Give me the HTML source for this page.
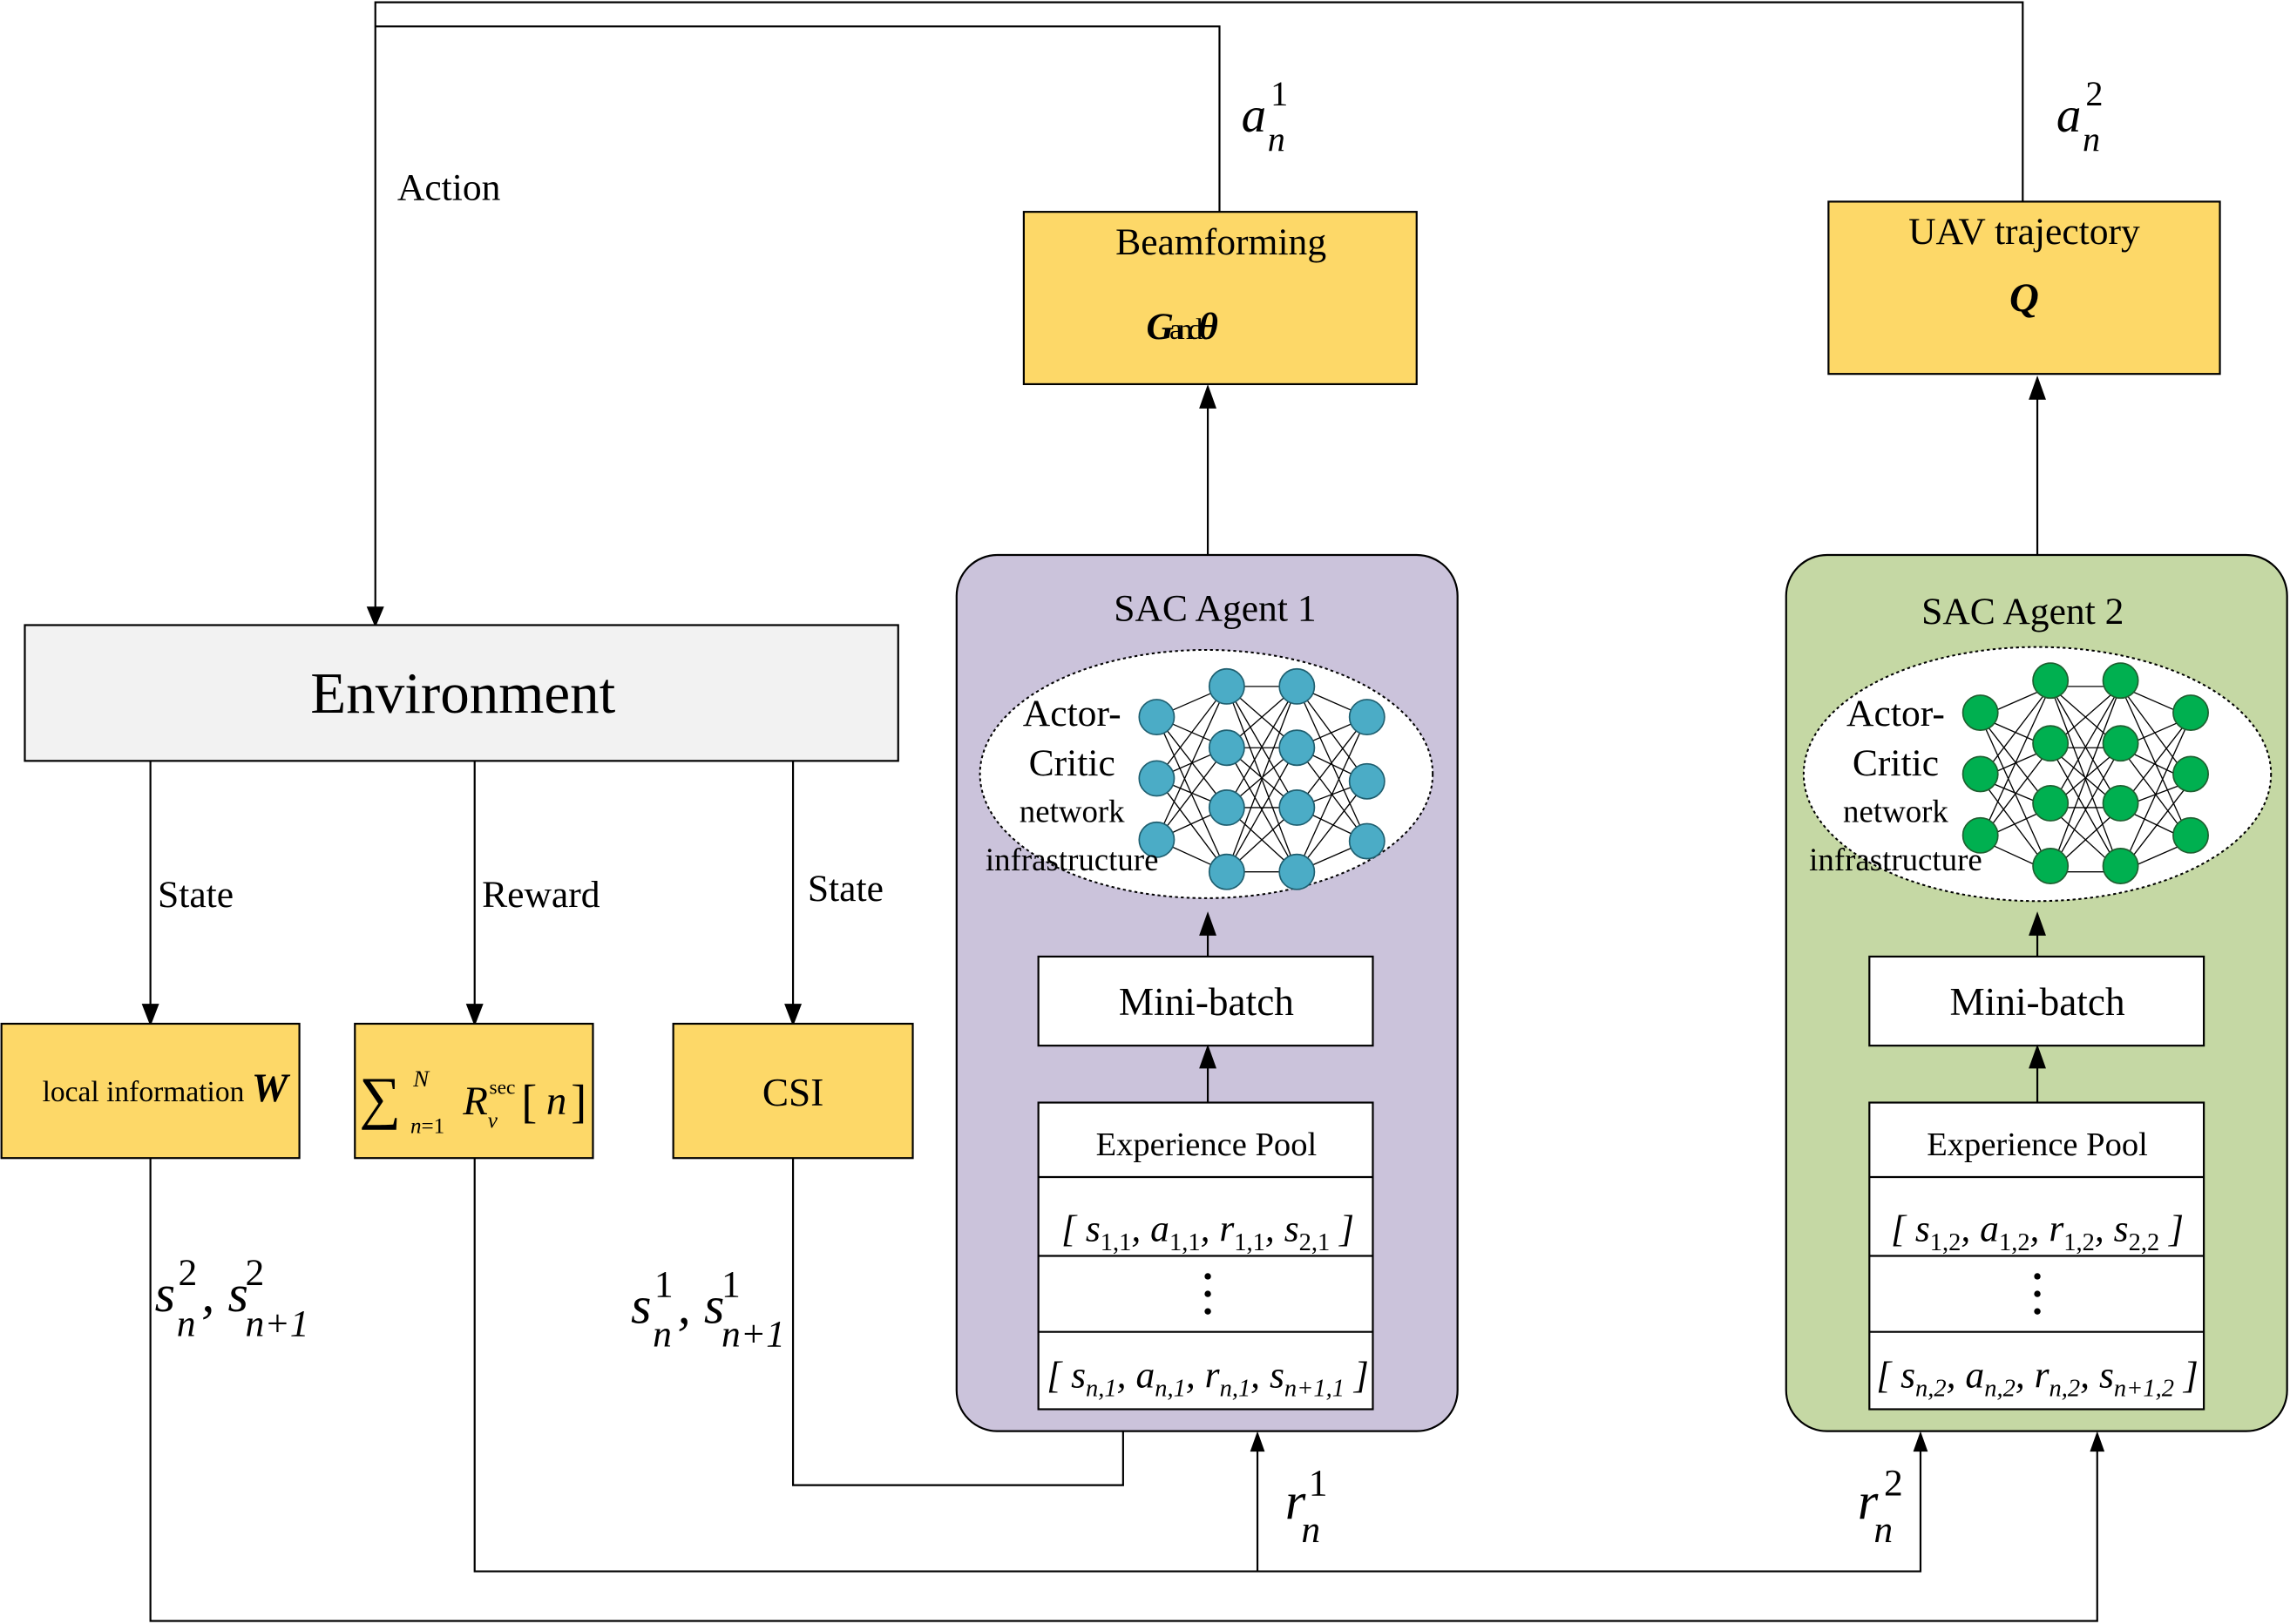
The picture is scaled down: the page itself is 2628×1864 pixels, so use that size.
<!DOCTYPE html>
<html><head><meta charset="utf-8"><style>
html,body{margin:0;padding:0;background:#fff;}
svg{display:block;}
text{font-family:"Liberation Serif",serif;fill:#000;}
.it{font-style:italic;}
</style></head><body>
<svg width="2628" height="1864" viewBox="0 0 1568 1112" xmlns="http://www.w3.org/2000/svg">
<defs>
<marker id="ar" markerWidth="10" markerHeight="10" refX="5" refY="9" orient="auto-start-reverse" markerUnits="userSpaceOnUse"><path d="M1,0 L5,10 L9,0 Z" transform="rotate(180 5 5)" fill="#000"/></marker>
</defs>
<g stroke="#000" stroke-width="1.3" fill="none">
<!-- top feedback lines -->
<polyline points="1385,138 1385,1.5 257,1.5 257,420"/>
<polyline points="835,145 835,18 257,18"/>
<path d="M252,416 L257,428 L262,416 Z" fill="#000"/>
</g>
<text x="272" y="137" font-size="26">Action</text>
<text x="850" y="90" font-size="34" class="it">a</text><text x="868" y="103" font-size="24" class="it">n</text><text x="870" y="72" font-size="24">1</text>
<text x="1408" y="90" font-size="34" class="it">a</text><text x="1426" y="103" font-size="24" class="it">n</text><text x="1428" y="72" font-size="24">2</text>

<!-- yellow top boxes -->
<rect x="701" y="145" width="269" height="118" fill="#fdd868" stroke="#000" stroke-width="1.3"/>
<text x="836" y="174" font-size="26" text-anchor="middle">Beamforming</text>
<text x="808" y="232" font-size="26" text-anchor="middle" font-weight="bold" class="it" letter-spacing="-3">G<tspan font-weight="normal" font-style="normal" font-size="20">and</tspan>θ</text>
<rect x="1252" y="138" width="268" height="118" fill="#fdd868" stroke="#000" stroke-width="1.3"/>
<text x="1386" y="167" font-size="26" text-anchor="middle">UAV trajectory</text>
<text x="1386" y="213" font-size="28" text-anchor="middle" font-weight="bold" class="it">Q</text>

<!-- agent panels -->
<rect x="655" y="380" width="343" height="600" rx="28" fill="#cbc3db" stroke="#000" stroke-width="1.3"/>
<rect x="1223" y="380" width="343" height="600" rx="28" fill="#c5d8a4" stroke="#000" stroke-width="1.3"/>
<text x="832" y="425" font-size="26" text-anchor="middle">SAC Agent 1</text>
<text x="1385" y="427" font-size="26" text-anchor="middle">SAC Agent 2</text>
<g stroke="#000" stroke-width="1.3">
<line x1="827" y1="380" x2="827" y2="268"/><path d="M822,279 L827,265 L832,279 Z" fill="#000"/>
<line x1="1395" y1="380" x2="1395" y2="262"/><path d="M1390,273 L1395,259 L1400,273 Z" fill="#000"/>
</g>
<ellipse cx="826" cy="530" rx="155" ry="85" fill="#fff" stroke="#000" stroke-width="1.2" stroke-dasharray="2,2"/>
<ellipse cx="1395" cy="530" rx="160" ry="87" fill="#fff" stroke="#000" stroke-width="1.2" stroke-dasharray="2,2"/>
<g id="net1" stroke="#000" stroke-width="0.8">
<path d="M792,491L840,470M792,491L840,512M792,491L840,553M792,491L840,597M792,533L840,470M792,533L840,512M792,533L840,553M792,533L840,597M792,575L840,470M792,575L840,512M792,575L840,553M792,575L840,597
M840,470L888,470M840,470L888,512M840,470L888,553M840,470L888,597M840,512L888,470M840,512L888,512M840,512L888,553M840,512L888,597M840,553L888,470M840,553L888,512M840,553L888,553M840,553L888,597M840,597L888,470M840,597L888,512M840,597L888,553M840,597L888,597
M888,470L936,491M888,470L936,535M888,470L936,576M888,512L936,491M888,512L936,535M888,512L936,576M888,553L936,491M888,553L936,535M888,553L936,576M888,597L936,491M888,597L936,535M888,597L936,576"/>
</g>
<g fill="#4bacc6" stroke="#1f5f70" stroke-width="1">
<circle cx="792" cy="491" r="12"/><circle cx="792" cy="533" r="12"/><circle cx="792" cy="575" r="12"/>
<circle cx="840" cy="470" r="12"/><circle cx="840" cy="512" r="12"/><circle cx="840" cy="553" r="12"/><circle cx="840" cy="597" r="12"/>
<circle cx="888" cy="470" r="12"/><circle cx="888" cy="512" r="12"/><circle cx="888" cy="553" r="12"/><circle cx="888" cy="597" r="12"/>
<circle cx="936" cy="491" r="12"/><circle cx="936" cy="535" r="12"/><circle cx="936" cy="576" r="12"/>
</g>
<use href="#net1" transform="translate(564,0)"/>
<g fill="#00b050" stroke="#1f5f30" stroke-width="1">
<circle cx="1356" cy="488" r="12"/><circle cx="1356" cy="530" r="12"/><circle cx="1356" cy="572" r="12"/>
<circle cx="1404" cy="466" r="12"/><circle cx="1404" cy="509" r="12"/><circle cx="1404" cy="550" r="12"/><circle cx="1404" cy="593" r="12"/>
<circle cx="1452" cy="466" r="12"/><circle cx="1452" cy="509" r="12"/><circle cx="1452" cy="550" r="12"/><circle cx="1452" cy="593" r="12"/>
<circle cx="1500" cy="488" r="12"/><circle cx="1500" cy="530" r="12"/><circle cx="1500" cy="572" r="12"/>
</g>
<g font-size="26" text-anchor="middle">
<text x="734" y="497">Actor-</text><text x="734" y="531">Critic</text>
<text x="734" y="563" font-size="22">network</text><text x="734" y="596" font-size="22">infrastructure</text>
<text x="1298" y="497">Actor-</text><text x="1298" y="531">Critic</text>
<text x="1298" y="563" font-size="22">network</text><text x="1298" y="596" font-size="22">infrastructure</text>
</g>
<!-- mini-batch & pool -->
<g stroke="#000" stroke-width="1.3">
<rect x="711" y="655" width="229" height="61" fill="#fff"/>
<rect x="1280" y="655" width="229" height="61" fill="#fff"/>
<line x1="827" y1="655" x2="827" y2="630"/><path d="M822,640 L827,626 L832,640 Z" fill="#000"/>
<line x1="1395" y1="655" x2="1395" y2="630"/><path d="M1390,640 L1395,626 L1400,640 Z" fill="#000"/>
<line x1="827" y1="755" x2="827" y2="722"/><path d="M822,731 L827,717 L832,731 Z" fill="#000"/>
<line x1="1395" y1="755" x2="1395" y2="722"/><path d="M1390,731 L1395,717 L1400,731 Z" fill="#000"/>
<rect x="711" y="755" width="229" height="210" fill="#fff"/>
<rect x="1280" y="755" width="229" height="210" fill="#fff"/>
<line x1="711" y1="806" x2="940" y2="806"/><line x1="711" y1="860" x2="940" y2="860"/><line x1="711" y1="912" x2="940" y2="912"/>
<line x1="1280" y1="806" x2="1509" y2="806"/><line x1="1280" y1="860" x2="1509" y2="860"/><line x1="1280" y1="912" x2="1509" y2="912"/>
</g>
<g text-anchor="middle">
<text x="826" y="695" font-size="27">Mini-batch</text><text x="1395" y="695" font-size="27">Mini-batch</text>
<text x="826" y="791" font-size="23">Experience Pool</text><text x="1395" y="791" font-size="23">Experience Pool</text>
<text x="827" y="850" font-size="26" class="it">[ s<tspan font-size="17" font-style="normal" dy="6">1,1</tspan><tspan dy="-6">, a</tspan><tspan font-size="17" font-style="normal" dy="6">1,1</tspan><tspan dy="-6">, r</tspan><tspan font-size="17" font-style="normal" dy="6">1,1</tspan><tspan dy="-6">, s</tspan><tspan font-size="17" font-style="normal" dy="6">2,1</tspan><tspan dy="-6"> ]</tspan></text>
<text x="827" y="950" font-size="26" class="it">[ s<tspan font-size="17" dy="6">n,1</tspan><tspan dy="-6">, a</tspan><tspan font-size="17" dy="6">n,1</tspan><tspan dy="-6">, r</tspan><tspan font-size="17" dy="6">n,1</tspan><tspan dy="-6">, s</tspan><tspan font-size="17" dy="6">n+1,1</tspan><tspan dy="-6"> ]</tspan></text>
<text x="1395" y="850" font-size="26" class="it">[ s<tspan font-size="17" font-style="normal" dy="6">1,2</tspan><tspan dy="-6">, a</tspan><tspan font-size="17" font-style="normal" dy="6">1,2</tspan><tspan dy="-6">, r</tspan><tspan font-size="17" font-style="normal" dy="6">1,2</tspan><tspan dy="-6">, s</tspan><tspan font-size="17" font-style="normal" dy="6">2,2</tspan><tspan dy="-6"> ]</tspan></text>
<text x="1395" y="950" font-size="26" class="it">[ s<tspan font-size="17" dy="6">n,2</tspan><tspan dy="-6">, a</tspan><tspan font-size="17" dy="6">n,2</tspan><tspan dy="-6">, r</tspan><tspan font-size="17" dy="6">n,2</tspan><tspan dy="-6">, s</tspan><tspan font-size="17" dy="6">n+1,2</tspan><tspan dy="-6"> ]</tspan></text>
</g>
<g fill="#000"><circle cx="827" cy="874" r="2.2"/><circle cx="827" cy="886" r="2.2"/><circle cx="827" cy="898" r="2.2"/>
<circle cx="1395" cy="874" r="2.2"/><circle cx="1395" cy="886" r="2.2"/><circle cx="1395" cy="898" r="2.2"/></g>

<!-- environment -->
<rect x="17" y="428" width="598" height="93" fill="#f2f2f2" stroke="#000" stroke-width="1.3"/>
<text x="317" y="488" font-size="40" text-anchor="middle">Environment</text>
<g stroke="#000" stroke-width="1.3">
<line x1="103" y1="521" x2="103" y2="690"/><path d="M98,688 L103,701 L108,688 Z" fill="#000"/>
<line x1="325" y1="521" x2="325" y2="690"/><path d="M320,688 L325,701 L330,688 Z" fill="#000"/>
<line x1="543" y1="521" x2="543" y2="690"/><path d="M538,688 L543,701 L548,688 Z" fill="#000"/>
</g>
<text x="108" y="621" font-size="26">State</text>
<text x="330" y="621" font-size="26">Reward</text>
<text x="553" y="617" font-size="26">State</text>
<g stroke="#000" stroke-width="1.3" fill="#fdd868">
<rect x="1" y="701" width="204" height="92"/>
<rect x="243" y="701" width="163" height="92"/>
<rect x="461" y="701" width="164" height="92"/>
</g>
<text x="29" y="754" font-size="20">local information <tspan class="it" font-weight="bold" font-size="28">W</tspan></text>
<text x="246" y="765" font-size="40">∑</text>
<text x="283" y="744" font-size="16" class="it">N</text><text x="281" y="776" font-size="15" class="it">n<tspan font-style="normal">=1</tspan></text>
<text x="317" y="763" font-size="28" class="it">R</text><text x="335" y="749" font-size="14">sec</text><text x="334" y="772" font-size="15" class="it">v</text>
<text x="357" y="765" font-size="32">[</text><text x="374" y="763" font-size="28" class="it">n</text><text x="391" y="765" font-size="32">]</text>
<text x="543" y="757" font-size="27" text-anchor="middle">CSI</text>

<!-- bottom lines -->
<g stroke="#000" stroke-width="1.3" fill="none">
<polyline points="103,793 103,1110 1436,1110 1436,992"/>
<polyline points="325,793 325,1076 1315,1076 1315,992"/>
<polyline points="861,1076 861,992"/>
<polyline points="543,793 543,1017 769,1017 769,980"/>
</g>
<g fill="#000">
<path d="M1431,994 L1436,980 L1441,994 Z"/>
<path d="M1310,994 L1315,980 L1320,994 Z"/>
<path d="M856,994 L861,980 L866,994 Z"/>
</g>
<g class="it" font-size="36">
<text x="106" y="898">s</text><text x="121" y="915" font-size="26">n</text><text x="122" y="880" font-size="26" font-style="normal">2</text>
<text x="138" y="898">, s</text><text x="168" y="915" font-size="26">n+1</text><text x="168" y="880" font-size="26" font-style="normal">2</text>
<text x="432" y="906">s</text><text x="447" y="922" font-size="26">n</text><text x="448" y="888" font-size="26" font-style="normal">1</text>
<text x="464" y="906">, s</text><text x="494" y="922" font-size="26">n+1</text><text x="494" y="888" font-size="26" font-style="normal">1</text>
<text x="880" y="1040">r</text><text x="891" y="1056" font-size="26">n</text><text x="896" y="1024" font-size="26" font-style="normal">1</text>
<text x="1272" y="1040">r</text><text x="1283" y="1056" font-size="26">n</text><text x="1290" y="1024" font-size="26" font-style="normal">2</text>
</g>
</svg>
</body></html>
